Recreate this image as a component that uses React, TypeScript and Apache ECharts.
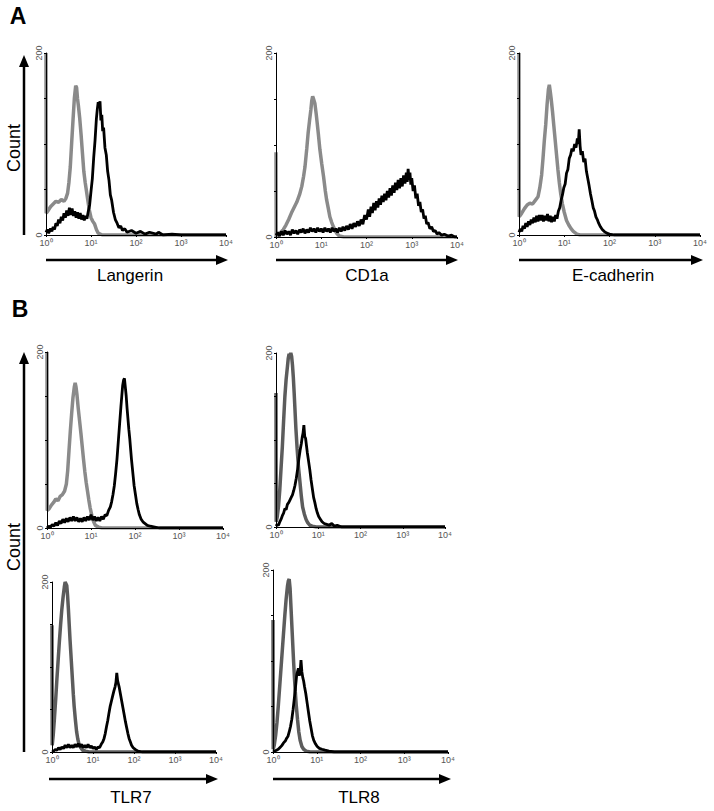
import React, { useEffect, useRef } from "react";
import * as echarts from "echarts";

// ---------- axis ticks ----------
const decadeTicks = [0, 1, 2, 3, 4];
const decadeLabels = ["10\u2070", "10\u00b9", "10\u00b2", "10\u00b3", "10\u2074"];
const countLabelTicks = [0, 200];

// ---------- histogram data: [log10 fluorescence (decades), count] ----------
const langerinIso = [[0,200],[0.005,24],[0.05,27],[0.1,31],[0.16,34],[0.22,37],[0.28,36],[0.34,39],[0.4,37],[0.44,40],[0.48,46],[0.51,58],[0.54,75],[0.57,101],[0.6,126],[0.63,150],[0.66,164],[0.68,162],[0.7,150],[0.72,142],[0.75,128],[0.78,110],[0.81,90],[0.84,70],[0.87,58],[0.9,48],[0.93,38],[0.96,28],[1.0,19],[1.04,15],[1.08,12],[1.12,6],[1.16,2],[1.25,0],[4,0]];
const langerinStain = [[0,3],[0.03,6],[0.06,2],[0.1,7],[0.13,4],[0.16,9],[0.19,6],[0.22,13],[0.25,10],[0.28,17],[0.31,13],[0.34,20],[0.37,16],[0.4,24],[0.43,19],[0.46,27],[0.49,21],[0.52,30],[0.55,22],[0.58,29],[0.61,21],[0.64,26],[0.67,19],[0.7,25],[0.73,18],[0.76,24],[0.79,17],[0.82,22],[0.85,16],[0.88,21],[0.91,18],[0.94,26],[0.97,33],[1.0,48],[1.03,62],[1.06,85],[1.09,104],[1.12,128],[1.14,138],[1.16,146],[1.18,140],[1.2,147],[1.22,126],[1.24,132],[1.26,114],[1.28,118],[1.31,96],[1.34,88],[1.37,70],[1.4,60],[1.43,44],[1.46,38],[1.5,25],[1.54,17],[1.58,13],[1.62,8],[1.66,10],[1.7,5],[1.75,7],[1.8,3],[1.9,5],[2.0,2],[2.1,4],[2.2,1],[2.3,3],[2.45,1],[2.5,3],[2.6,0],[2.8,1],[3.0,0],[4,0]];

const cd1aIso = [[0,92],[0.005,0],[0.05,2],[0.1,5],[0.16,8],[0.22,13],[0.28,19],[0.34,26],[0.4,32],[0.46,38],[0.52,46],[0.57,55],[0.61,66],[0.64,76],[0.68,96],[0.71,113],[0.74,126],[0.77,138],[0.79,148],[0.81,153],[0.83,150],[0.86,145],[0.89,133],[0.91,124],[0.94,110],[0.97,95],[1.01,80],[1.05,66],[1.09,50],[1.12,40],[1.16,30],[1.19,22],[1.23,16],[1.27,11],[1.31,7],[1.34,4],[1.4,1],[1.5,0],[4,0]];
const cd1aStain = [[0,2],[0.04,5],[0.08,1],[0.12,6],[0.16,2],[0.2,7],[0.24,3],[0.28,6],[0.32,2],[0.36,8],[0.4,4],[0.44,7],[0.48,3],[0.52,8],[0.56,5],[0.6,9],[0.64,4],[0.68,8],[0.72,5],[0.76,10],[0.8,6],[0.84,9],[0.88,5],[0.92,10],[0.96,6],[1.0,9],[1.04,5],[1.08,10],[1.12,6],[1.16,9],[1.2,5],[1.24,10],[1.28,6],[1.32,9],[1.36,5],[1.4,10],[1.44,6],[1.48,11],[1.52,7],[1.56,12],[1.6,8],[1.64,14],[1.68,9],[1.72,15],[1.76,11],[1.8,17],[1.84,12],[1.88,19],[1.92,14],[1.96,24],[2.0,19],[2.04,30],[2.07,22],[2.1,33],[2.13,26],[2.16,37],[2.19,29],[2.22,39],[2.25,32],[2.28,42],[2.31,35],[2.34,45],[2.37,38],[2.4,47],[2.43,40],[2.46,50],[2.49,43],[2.52,53],[2.55,45],[2.58,56],[2.61,48],[2.64,59],[2.67,51],[2.7,62],[2.73,53],[2.76,64],[2.79,55],[2.82,67],[2.85,58],[2.88,70],[2.9,60],[2.92,74],[2.94,62],[2.96,70],[2.98,57],[3.0,64],[3.03,50],[3.06,56],[3.09,42],[3.12,47],[3.15,34],[3.18,38],[3.21,27],[3.24,30],[3.27,20],[3.3,23],[3.33,14],[3.36,16],[3.4,9],[3.44,11],[3.48,6],[3.52,7],[3.56,3],[3.6,5],[3.66,2],[3.72,3],[3.8,1],[3.88,2],[3.95,0],[4,0]];

const ecadIso = [[0,200],[0.005,20],[0.06,24],[0.12,29],[0.18,33],[0.24,35],[0.3,34],[0.36,38],[0.42,42],[0.46,52],[0.5,66],[0.53,84],[0.56,104],[0.59,121],[0.62,143],[0.65,160],[0.67,165],[0.69,158],[0.71,150],[0.74,136],[0.77,120],[0.8,104],[0.83,88],[0.86,72],[0.89,58],[0.92,46],[0.96,34],[1.0,25],[1.05,16],[1.1,11],[1.15,7],[1.2,4],[1.28,1],[1.35,0],[4,0]];
const ecadStain = [[0,3],[0.03,7],[0.06,4],[0.09,10],[0.12,7],[0.15,13],[0.18,9],[0.21,15],[0.24,11],[0.27,17],[0.3,13],[0.33,19],[0.36,14],[0.39,21],[0.42,15],[0.45,22],[0.48,16],[0.51,22],[0.54,15],[0.57,21],[0.6,16],[0.63,23],[0.66,15],[0.69,21],[0.72,14],[0.75,20],[0.78,15],[0.81,22],[0.84,18],[0.87,26],[0.9,30],[0.93,38],[0.96,44],[0.99,52],[1.02,56],[1.05,68],[1.08,72],[1.11,84],[1.14,88],[1.17,95],[1.2,92],[1.23,100],[1.26,96],[1.29,106],[1.31,100],[1.33,116],[1.35,98],[1.37,88],[1.4,92],[1.43,80],[1.46,84],[1.49,70],[1.52,62],[1.55,54],[1.58,45],[1.61,38],[1.64,30],[1.67,26],[1.7,20],[1.73,17],[1.76,13],[1.8,9],[1.84,6],[1.88,4],[1.94,2],[2.0,1],[2.1,0],[4,0]];

const tlr7TopIso = [[0,200],[0.005,20],[0.05,22],[0.1,26],[0.15,29],[0.2,33],[0.25,31],[0.3,36],[0.35,38],[0.4,42],[0.44,50],[0.47,65],[0.5,88],[0.53,110],[0.56,130],[0.59,148],[0.62,160],[0.64,165],[0.66,160],[0.68,152],[0.71,136],[0.74,122],[0.77,108],[0.8,93],[0.83,78],[0.86,64],[0.89,52],[0.92,42],[0.95,32],[0.98,23],[1.02,14],[1.06,7],[1.1,3],[1.17,1],[1.25,0],[4,0]];
const tlr7TopStain = [[0,0],[0.04,2],[0.08,1],[0.12,4],[0.16,2],[0.2,6],[0.24,3],[0.28,8],[0.32,5],[0.36,10],[0.4,6],[0.44,11],[0.48,7],[0.52,12],[0.56,8],[0.6,13],[0.64,8],[0.68,12],[0.72,7],[0.76,11],[0.8,7],[0.84,12],[0.88,8],[0.92,13],[0.96,9],[1.0,15],[1.04,9],[1.08,13],[1.12,8],[1.16,12],[1.2,8],[1.24,13],[1.28,10],[1.32,15],[1.36,14],[1.4,20],[1.44,24],[1.47,30],[1.5,38],[1.53,48],[1.56,62],[1.59,78],[1.62,98],[1.65,118],[1.68,138],[1.7,150],[1.72,162],[1.74,168],[1.76,170],[1.78,160],[1.8,150],[1.82,136],[1.84,124],[1.86,112],[1.88,102],[1.9,90],[1.92,78],[1.94,68],[1.96,58],[1.98,48],[2.01,38],[2.04,28],[2.07,21],[2.1,15],[2.14,10],[2.18,7],[2.23,5],[2.28,3],[2.35,2],[2.45,1],[2.55,0],[4,0]];

const tlr8TopIso = [[0,154],[0.005,6],[0.03,12],[0.06,24],[0.09,43],[0.12,68],[0.15,92],[0.18,122],[0.21,150],[0.24,170],[0.27,184],[0.29,194],[0.31,199],[0.33,197],[0.35,200],[0.37,196],[0.39,186],[0.41,172],[0.43,154],[0.45,134],[0.47,114],[0.5,90],[0.53,70],[0.57,50],[0.6,35],[0.63,23],[0.67,15],[0.71,9],[0.75,5],[0.8,2],[0.86,1],[0.95,0],[4,0]];
const tlr8TopStain = [[0,1],[0.03,3],[0.06,2],[0.09,6],[0.12,9],[0.15,13],[0.18,16],[0.21,21],[0.24,20],[0.27,26],[0.3,28],[0.33,31],[0.36,34],[0.39,37],[0.42,42],[0.45,48],[0.48,56],[0.51,66],[0.54,78],[0.57,88],[0.6,96],[0.62,103],[0.64,108],[0.66,117],[0.68,104],[0.7,102],[0.72,94],[0.74,86],[0.77,76],[0.8,66],[0.83,54],[0.86,44],[0.89,34],[0.92,28],[0.95,21],[0.98,16],[1.01,12],[1.05,9],[1.09,6],[1.14,4],[1.2,3],[1.26,2],[1.32,4],[1.38,1],[1.45,2],[1.55,0],[4,0]];

const tlr7Iso = [[0,149],[0.005,8],[0.03,20],[0.06,40],[0.09,62],[0.12,86],[0.15,108],[0.18,130],[0.21,150],[0.24,168],[0.27,182],[0.3,194],[0.32,200],[0.34,198],[0.36,196],[0.38,184],[0.4,168],[0.42,150],[0.44,132],[0.46,116],[0.48,100],[0.5,84],[0.52,68],[0.54,54],[0.57,38],[0.6,24],[0.63,15],[0.66,9],[0.7,5],[0.75,2],[0.82,1],[0.9,0],[4,0]];
const tlr7Stain = [[0,0],[0.04,1],[0.08,3],[0.12,2],[0.16,5],[0.2,3],[0.24,6],[0.28,4],[0.32,8],[0.36,5],[0.4,9],[0.44,5],[0.48,8],[0.52,5],[0.56,9],[0.6,6],[0.64,10],[0.68,6],[0.72,9],[0.76,5],[0.8,8],[0.84,5],[0.88,9],[0.92,5],[0.96,7],[1.0,4],[1.04,6],[1.08,3],[1.12,6],[1.16,5],[1.2,9],[1.24,12],[1.27,16],[1.3,22],[1.33,30],[1.36,37],[1.39,46],[1.42,54],[1.45,60],[1.48,66],[1.51,72],[1.54,77],[1.56,82],[1.58,93],[1.6,84],[1.62,80],[1.64,76],[1.67,68],[1.7,60],[1.73,52],[1.76,44],[1.79,36],[1.82,29],[1.85,22],[1.88,16],[1.91,12],[1.94,8],[1.98,5],[2.03,3],[2.1,1],[2.2,0],[4,0]];

const tlr8Iso = [[0,145],[0.005,3],[0.03,8],[0.06,18],[0.09,32],[0.12,50],[0.15,70],[0.18,90],[0.21,110],[0.24,130],[0.27,150],[0.3,168],[0.33,182],[0.35,188],[0.37,190],[0.39,180],[0.41,160],[0.43,140],[0.45,120],[0.47,100],[0.49,82],[0.51,66],[0.53,52],[0.56,36],[0.59,22],[0.62,13],[0.66,6],[0.7,3],[0.76,1],[0.85,0],[4,0]];
const tlr8Stain = [[0,0],[0.04,1],[0.08,2],[0.12,3],[0.16,5],[0.2,7],[0.24,10],[0.28,12],[0.31,15],[0.34,17],[0.37,22],[0.4,28],[0.43,36],[0.46,47],[0.49,60],[0.52,74],[0.54,84],[0.56,88],[0.58,92],[0.6,84],[0.62,88],[0.64,101],[0.66,88],[0.68,82],[0.7,78],[0.72,72],[0.75,64],[0.78,54],[0.81,44],[0.84,34],[0.87,26],[0.9,18],[0.93,13],[0.97,9],[1.01,6],[1.06,4],[1.12,3],[1.19,2],[1.28,1],[1.4,0],[4,0]];

const panelTitles = ["Langerin", "CD1a", "E-cadherin", "", "", "TLR7", "TLR8"];

// ---------- layout (pixels) ----------
const LIGHT = "#8a8a8a";
const DARK = "#5c5c5c";
const panels = [
  { iso: langerinIso, stain: langerinStain, isoColor: LIGHT, grid: { left: 46, top: 53, width: 180, height: 182 } },
  { iso: cd1aIso, stain: cd1aStain, isoColor: LIGHT, grid: { left: 276, top: 53, width: 181, height: 184 } },
  { iso: ecadIso, stain: ecadStain, isoColor: LIGHT, grid: { left: 519, top: 53, width: 181, height: 182 } },
  { iso: tlr7TopIso, stain: tlr7TopStain, isoColor: LIGHT, grid: { left: 47, top: 352, width: 176, height: 176 } },
  { iso: tlr8TopIso, stain: tlr8TopStain, isoColor: DARK, grid: { left: 276, top: 353, width: 169, height: 174 } },
  { iso: tlr7Iso, stain: tlr7Stain, isoColor: DARK, grid: { left: 52, top: 582, width: 164, height: 170 } },
  { iso: tlr8Iso, stain: tlr8Stain, isoColor: DARK, grid: { left: 273, top: 570, width: 175, height: 182 } },
];

const FONT = "Liberation Sans, Arial, Helvetica, sans-serif";

function hArrow(x1: number, x2: number, y: number) {
  return [
    { type: "line", shape: { x1, y1: y, x2: x2 - 8, y2: y }, style: { stroke: "#000", lineWidth: 2.5 } },
    { type: "polygon", shape: { points: [[x2, y], [x2 - 12, y - 5], [x2 - 12, y + 5]] }, style: { fill: "#000" } },
  ];
}
function vArrow(x: number, yBottom: number, yTip: number) {
  return [
    { type: "line", shape: { x1: x, y1: yBottom, x2: x, y2: yTip + 8 }, style: { stroke: "#000", lineWidth: 2.5 } },
    { type: "polygon", shape: { points: [[x, yTip], [x - 5, yTip + 12], [x + 5, yTip + 12]] }, style: { fill: "#000" } },
  ];
}
function label(text: string, x: number, y: number, size: number, bold = false, rotation = 0) {
  return {
    type: "text",
    x,
    y,
    rotation,
    style: {
      text,
      fill: "#000",
      font: `${bold ? "bold " : ""}${size}px ${FONT}`,
      textAlign: "center",
      textVerticalAlign: "middle",
    },
  };
}

export default function App() {
  const ref = useRef<HTMLDivElement>(null);
  useEffect(() => {
    document.body.style.margin = "0";
    if (!ref.current) return;
    const chart = echarts.init(ref.current, undefined, { renderer: "svg" });

    const grid = panels.map((p) => ({ ...p.grid, containLabel: false }));
    const xAxis = panels.map((_, i) => ({
      type: "value",
      gridIndex: i,
      min: 0,
      max: 4,
      interval: 1,
      z: 5,
      axisLine: { show: true, lineStyle: { color: "#000", width: 1 } },
      axisTick: { show: true, length: 2, lineStyle: { color: "#000" } },
      splitLine: { show: false },
      axisLabel: {
        margin: 3,
        fontSize: 9,
        color: "#555",
        fontFamily: FONT,
        formatter: (v: number) => {
          const k = decadeTicks.indexOf(Math.round(v));
          return k >= 0 ? decadeLabels[k] : "";
        },
      },
    }));
    const yAxis = panels.map((_, i) => ({
      type: "value",
      gridIndex: i,
      min: 0,
      max: 200,
      interval: 50,
      z: 5,
      axisLine: { show: true, lineStyle: { color: "#000", width: 1 } },
      axisTick: { show: true, length: 2, lineStyle: { color: "#000" } },
      splitLine: { show: false },
      axisLabel: {
        margin: 3,
        fontSize: 9,
        color: "#555",
        fontFamily: FONT,
        rotate: 90,
        formatter: (v: number) => (countLabelTicks.includes(v) ? String(v) : ""),
      },
    }));
    const series: any[] = [];
    panels.forEach((p, i) => {
      series.push({
        type: "line",
        xAxisIndex: i,
        yAxisIndex: i,
        data: p.iso,
        showSymbol: false,
        symbol: "none",
        silent: true,
        lineStyle: { color: p.isoColor, width: 3.5 },
        z: 2,
      });
      series.push({
        type: "line",
        xAxisIndex: i,
        yAxisIndex: i,
        data: p.stain,
        showSymbol: false,
        symbol: "none",
        silent: true,
        lineStyle: { color: "#000", width: 2.8 },
        z: 3,
      });
    });

    const graphic: any[] = [
      label("A", 18, 16, 23, true),
      label("B", 20, 309, 23, true),
      label("Count", 14, 148, 18, false, Math.PI / 2),
      label("Count", 14, 547, 18, false, Math.PI / 2),
      ...vArrow(24, 235, 55),
      ...vArrow(24, 752, 352),
      ...hArrow(46, 228, 260),
      ...hArrow(276, 458, 260),
      ...hArrow(519, 703, 260),
      ...hArrow(49, 218, 779),
      ...hArrow(273, 451, 779),
      label(panelTitles[0], 130, 275, 17),
      label(panelTitles[1], 367, 275, 17),
      label(panelTitles[2], 613, 275, 17),
      label(panelTitles[5], 131, 797, 17),
      label(panelTitles[6], 359, 797, 17),
    ];

    chart.setOption({
      animation: false,
      backgroundColor: "#fff",
      grid,
      xAxis,
      yAxis,
      series,
      graphic,
    });
    return () => chart.dispose();
  }, []);
  return <div ref={ref} style={{ width: 714, height: 811 }} />;
}
